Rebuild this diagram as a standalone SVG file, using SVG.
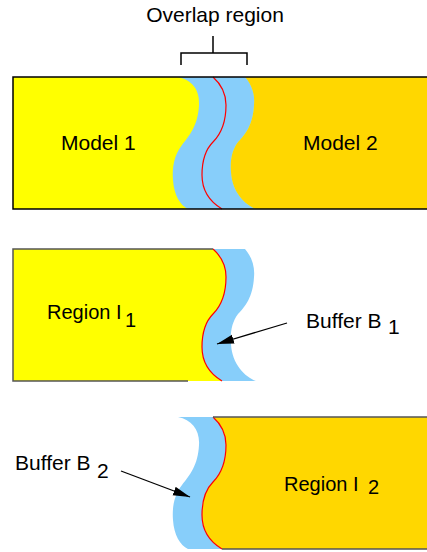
<svg xmlns="http://www.w3.org/2000/svg" width="427" height="552" viewBox="0 0 427 552">
<style>
text{font-family:"Liberation Sans",Arial,sans-serif;font-size:21px;fill:#000}
.rg{font-size:20px}
.y{fill:#FFFF00}
.o{fill:#FFD700}
.b{fill:#87CEFA}
.red{fill:none;stroke:#FF0000;stroke-width:1.2}
.bd{fill:none;stroke:#000;stroke-width:1.5}
.bg{fill:none;stroke:#555;stroke-width:1.5}
.ar{fill:none;stroke:#000;stroke-width:1.3}
</style>
<defs>
<marker id="ah" markerUnits="userSpaceOnUse" markerWidth="18" markerHeight="10" refX="17" refY="5" orient="auto" viewBox="0 0 18 10">
<path d="M0,0.5 L17,5 L0,9.5 Z" fill="#000"/>
</marker>
</defs>
<g id="overlap-label">
<text x="215" y="22" text-anchor="middle">Overlap region</text>
<path d="M213,36 V53 M181,65 V53 H247 V65" class="bd" stroke-width="1.3"/>
</g>
<g id="models">
<rect x="13" y="77" width="420" height="132" class="y"/>
<path class="o" d="M245,77 C252,85 255,95 254,105 C253,125 245,135 238,142 C232,150 230,160 231,172 C232,192 245,205 256,209 L430,209 L430,77 Z"/>
<path class="b" d="M178,77 C192,80 200,90 199,105 C198,125 190,135 182,145 C174,155 172,168 173,180 C174,195 180,205 188,209 L256,209 C245,205 232,192 231,172 C230,160 232,150 238,142 C245,135 253,125 254,105 C255,95 252,85 245,77 Z"/>
<path class="red" d="M213,77 C222,85 226,95 226,105 C226,125 220,135 213,142 C205,150 202,162 202,175 C202,192 212,203 222,209"/>
<path class="bd" d="M430,77 H13 V209 H430"/>
<text x="61" y="150">Model 1</text>
<text x="303" y="150">Model 2</text>
</g>
<g id="region1" transform="translate(0,172)">
<path class="y" d="M13,77 L213,77 C222,85 226,95 226,105 C226,125 220,135 213,142 C205,150 202,162 202,175 C202,192 212,203 222,209 L13,209 Z"/>
<path class="b" d="M213,77 C222,85 226,95 226,105 C226,125 220,135 213,142 C205,150 202,162 202,175 C202,192 212,203 222,209 L256,209 C245,205 232,192 231,172 C230,160 232,150 238,142 C245,135 253,125 254,105 C255,95 252,85 245,77 Z"/>
<path class="red" d="M213,77 C222,85 226,95 226,105 C226,125 220,135 213,142 C205,150 202,162 202,175 C202,192 212,203 222,209"/>
<path class="bg" d="M213,77 H13 V209 H188"/>
</g>
<g id="region2" transform="translate(0,340)">
<path class="o" d="M213,77 L430,77 L430,209 L222,209 C212,203 202,192 202,175 C202,162 205,150 213,142 C220,135 226,125 226,105 C226,95 222,85 213,77 Z"/>
<path class="b" d="M178,77 C192,80 200,90 199,105 C198,125 190,135 182,145 C174,155 172,168 173,180 C174,195 180,205 188,209 L222,209 C212,203 202,192 202,175 C202,162 205,150 213,142 C220,135 226,125 226,105 C226,95 222,85 213,77 Z"/>
<path class="red" d="M213,77 C222,85 226,95 226,105 C226,125 220,135 213,142 C205,150 202,162 202,175 C202,192 212,203 222,209"/>
<path class="bg" d="M213,77 H430 M222,209 H430"/>
</g>
<g id="labels">
<text class="rg" x="47" y="319">Region I<tspan x="125" y="327">1</tspan></text>
<text x="306" y="328">Buffer B<tspan x="388" y="334">1</tspan></text>
<text x="15" y="470">Buffer B<tspan x="97" y="478">2</tspan></text>
<text class="rg" x="284" y="491">Region I<tspan x="368" y="494">2</tspan></text>
</g>
<g id="connectors">
<line class="ar" x1="287" y1="323" x2="217" y2="344" marker-end="url(#ah)"/>
<line class="ar" x1="121" y1="471" x2="190" y2="497" marker-end="url(#ah)"/>
</g>
</svg>
